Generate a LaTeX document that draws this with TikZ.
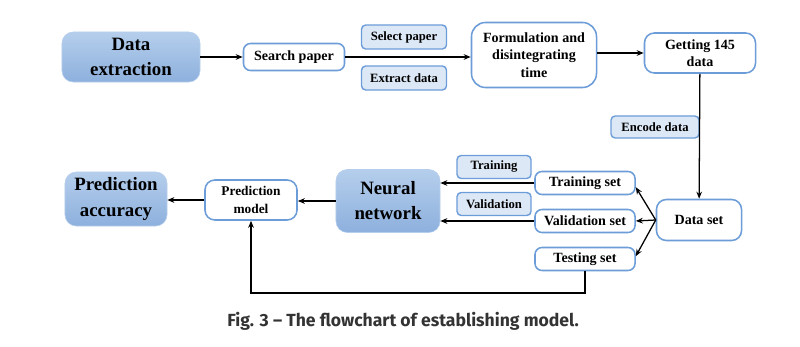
\documentclass[tikz,border=0pt]{standalone}
\usepackage{fontspec}
\setmainfont{Liberation Serif}
\newfontfamily\capfont{Fira Sans}
\usepackage{tikz}
\usetikzlibrary{arrows.meta}

\definecolor{boxedge}{HTML}{6D9DD8}
\definecolor{boxtop}{HTML}{B5CEEC}
\definecolor{boxbot}{HTML}{8DB0DD}
\definecolor{tagfill}{HTML}{DCE8F6}

\tikzset{
  bigbox/.style={rounded corners=8pt, top color=boxtop, bottom color=boxbot,
    draw=boxtop, align=center, inner sep=0pt, font=\bfseries\fontsize{13.4}{17.8}\selectfont},
  whitebox/.style={rounded corners=5pt, draw=boxedge, line width=1.1pt, fill=white,
    align=center, inner sep=0pt, font=\bfseries\fontsize{10}{12.5}\selectfont},
  tagbox/.style={rounded corners=3pt, draw=boxedge, line width=1pt, fill=tagfill,
    align=center, inner sep=0pt, font=\bfseries\fontsize{9}{11}\selectfont},
  flow/.style={line width=0.9pt, -{Stealth[length=5pt,width=4pt]}}
}

\begin{document}
\begin{tikzpicture}[x=0.025cm, y=-0.025cm]
        \useasboundingbox (0,0) rectangle (800,347);
        % top row
        \node[bigbox, minimum width=3.45cm, minimum height=1.25cm] (extract) at (131,57) {Data\\extraction};
        \node[whitebox, minimum width=2.525cm, minimum height=0.675cm] (search) at (294,57) {Search paper};
        \node[tagbox, minimum width=2.125cm, minimum height=0.6cm] (select) at (404,37) {Select paper};
        \node[tagbox, minimum width=2.125cm, minimum height=0.6cm] (extdata) at (404,78) {Extract data};
        \node[whitebox, rounded corners=10pt, minimum width=3.125cm, minimum height=1.625cm] (formul) at (534,55) {Formulation and\\disintegrating\\time};
        \node[whitebox, rounded corners=7pt, minimum width=2.775cm, minimum height=1cm] (getting) at (700,53) {Getting 145\\data};
        \node[tagbox, minimum width=2.2cm, minimum height=0.55cm] (encode) at (655,127) {Encode data};
        % bottom row
        \node[whitebox, rounded corners=7pt, minimum width=2.125cm, minimum height=1.025cm] (dataset) at (699,220) {Data set};
        \node[whitebox, minimum width=2.5cm, minimum height=0.575cm] (trainset) at (585,183) {Training set};
        \node[whitebox, minimum width=2.5cm, minimum height=0.575cm] (valset) at (585,221) {Validation set};
        \node[whitebox, minimum width=2.5cm, minimum height=0.575cm] (testset) at (585,259) {Testing set};
        \node[tagbox, minimum width=1.85cm, minimum height=0.575cm] (training) at (494,167) {Training};
        \node[tagbox, minimum width=1.85cm, minimum height=0.575cm] (validation) at (494,204) {Validation};
        \node[bigbox, minimum width=2.6cm, minimum height=1.575cm] (neural) at (388,201) {Neural\\network};
        \node[whitebox, rounded corners=7pt, minimum width=2.3cm, minimum height=1cm,
              font=\bfseries\fontsize{9.5}{12.5}\selectfont] (predmodel) at (251,200) {Prediction\\model};
        \node[bigbox, minimum width=2.55cm, minimum height=1.35cm] (predacc) at (116,199) {Prediction\\accuracy};

        \coordinate (fork) at (dataset.west);
        \coordinate (loop) at (585,293);

        \draw[flow] (extract) -- (search);
        \draw[flow] (search) -- (formul.west |- search);
        \draw[flow] (formul.east |- getting) -- (getting);
        \draw[flow] (getting) -- (dataset);
        \draw[flow] (fork) -- ([yshift=-3pt]trainset.east);
        \draw[flow] (fork) -- (valset.east);
        \draw[flow] (fork) -- ([yshift=2pt]testset.east);
        \draw[flow] (trainset) -- (neural.east |- trainset);
        \draw[flow] (valset) -- (neural.east |- valset);
        \draw[flow] (neural) -- (predmodel.east |- neural);
        \draw[flow] (predmodel) -- (predacc.east |- predmodel);
        \draw[flow] (testset) -- (loop) -| (predmodel);

        \node[font=\capfont\bfseries\fontsize{12.5}{15}\selectfont, text=black!80] (caption) at (403,321)
            {Fig. 3 – The flowchart of establishing model.};
\end{tikzpicture}
\end{document}
